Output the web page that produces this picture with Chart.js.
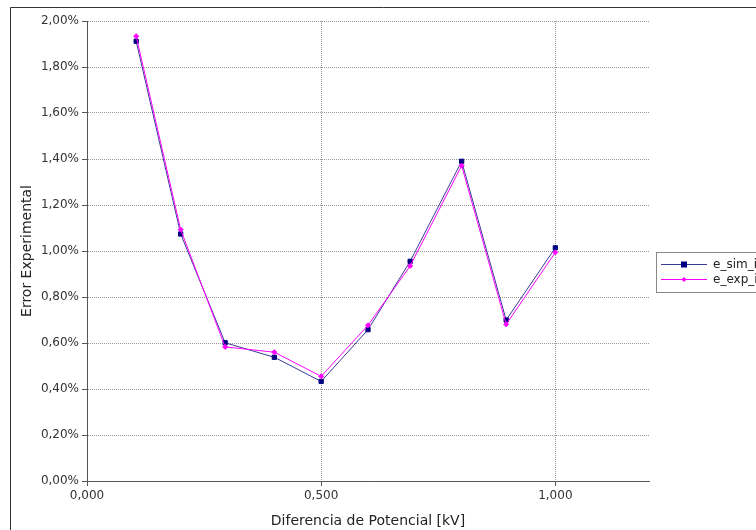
<!DOCTYPE html>
<html>
<head>
<meta charset="utf-8">
<script src="https://cdn.jsdelivr.net/npm/chart.js@4/dist/chart.umd.min.js"></script>
<style>
  html, body { margin: 0; padding: 0; background: #fff; }
  canvas { display: block; }
</style>
</head>
<body>
<canvas id="errorChart" width="756" height="530"></canvas>
<script>
// tension values [kV]
const voltages = [0.105, 0.2, 0.295, 0.4, 0.5, 0.6, 0.69, 0.8, 0.895, 1.0];
// error in %
const eSim = [1.912, 1.074, 0.601, 0.538, 0.433, 0.658, 0.955, 1.39, 0.70, 1.014];
const eExp = [1.934, 1.093, 0.583, 0.56, 0.455, 0.677, 0.935, 1.371, 0.681, 0.994];
const seriesNames = ["e_sim_i", "e_exp_i"];

const FONT = "'DejaVu Sans', sans-serif";

const toPoints = (vals) => vals.map((v, i) => ({ x: voltages[i], y: v }));

// outer frame + legend box
const framePlugin = {
  id: "frame",
  afterDraw(chart) {
    const ctx = chart.ctx;
    ctx.save();
    ctx.strokeStyle = "#333";
    ctx.lineWidth = 1;
    ctx.beginPath();
    ctx.moveTo(760, 7.5);
    ctx.lineTo(10.5, 7.5);
    ctx.lineTo(10.5, 535);
    ctx.stroke();

    // legend
    ctx.strokeStyle = "#888";
    ctx.strokeRect(656.5, 252.5, 110, 40);
    chart.data.datasets.forEach((ds, i) => {
      const y = 264 + i * 15;
      ctx.strokeStyle = ds.borderColor;
      ctx.lineWidth = 1;
      ctx.beginPath();
      ctx.moveTo(661, y + 0.5);
      ctx.lineTo(707, y + 0.5);
      ctx.stroke();
      ctx.fillStyle = ds.pointBackgroundColor;
      if (i === 0) {
        ctx.fillRect(681, y - 2.5, 6, 6);
      } else {
        ctx.beginPath();
        ctx.moveTo(684, y - 2);
        ctx.lineTo(686.5, y + 0.5);
        ctx.lineTo(684, y + 3);
        ctx.lineTo(681.5, y + 0.5);
        ctx.closePath();
        ctx.fill();
      }
      ctx.fillStyle = "#222";
      ctx.font = "12px " + FONT;
      ctx.textBaseline = "middle";
      ctx.fillText(ds.label, 713, y + 0.5);
    });
    ctx.restore();
  },
};

new Chart(document.getElementById("errorChart"), {
  type: "line",
  data: {
    datasets: [
      {
        label: seriesNames[0],
        data: toPoints(eSim),
        borderColor: "#3a3a98",
        backgroundColor: "#000080",
        pointBackgroundColor: "#000080",
        pointBorderColor: "#000080",
        pointStyle: "rect",
        pointRadius: 3,
        borderWidth: 1,
        tension: 0,
        order: 1,
      },
      {
        label: seriesNames[1],
        data: toPoints(eExp),
        borderColor: "#ff00ff",
        backgroundColor: "#ff00ff",
        pointBackgroundColor: "#ff00ff",
        pointBorderColor: "#ff00ff",
        pointStyle: "rectRot",
        pointRadius: 2.5,
        borderWidth: 1,
        tension: 0,
        order: 0,
      },
    ],
  },
  options: {
    responsive: false,
    animation: false,
    devicePixelRatio: 1,
    layout: { padding: { left: 12, top: 21, right: 107, bottom: 0 } },
    plugins: {
      legend: { display: false },
      tooltip: { enabled: false },
    },
    scales: {
      x: {
        type: "linear",
        min: 0,
        max: 1.2,
        afterFit: (s) => { s.height = 49; },
        ticks: {
          stepSize: 0.5,
          includeBounds: false,
          autoSkip: false,
          maxRotation: 0,
          padding: 3,
          color: "#333",
          font: { family: FONT, size: 12 },
          callback: (v) => v.toFixed(3).replace(".", ","),
        },
        grid: {
          color: "#999",
          tickColor: "#555",
          tickLength: 5,
          tickBorderDash: [],
        },
        border: { color: "#555", width: 1, dash: [1, 1] },
        title: {
          display: true,
          text: "Diferencia de Potencial [kV]",
          color: "#222",
          font: { family: FONT, size: 14 },
          padding: { top: 3, bottom: 0 },
        },
      },
      y: {
        min: 0,
        max: 2,
        afterFit: (s) => { s.width = 75; },
        ticks: {
          stepSize: 0.2,
          autoSkip: false,
          padding: 3,
          color: "#333",
          font: { family: FONT, size: 12 },
          callback: (v) => v.toFixed(2).replace(".", ",") + "%",
        },
        grid: {
          color: "#999",
          tickColor: "#555",
          tickLength: 5,
          tickBorderDash: [],
        },
        border: { color: "#555", width: 1, dash: [1, 1] },
        title: {
          display: true,
          text: "Error Experimental",
          color: "#222",
          font: { family: FONT, size: 14 },
          padding: { top: 7, bottom: 0 },
        },
      },
    },
  },
  plugins: [framePlugin],
});
</script>
</body>
</html>
